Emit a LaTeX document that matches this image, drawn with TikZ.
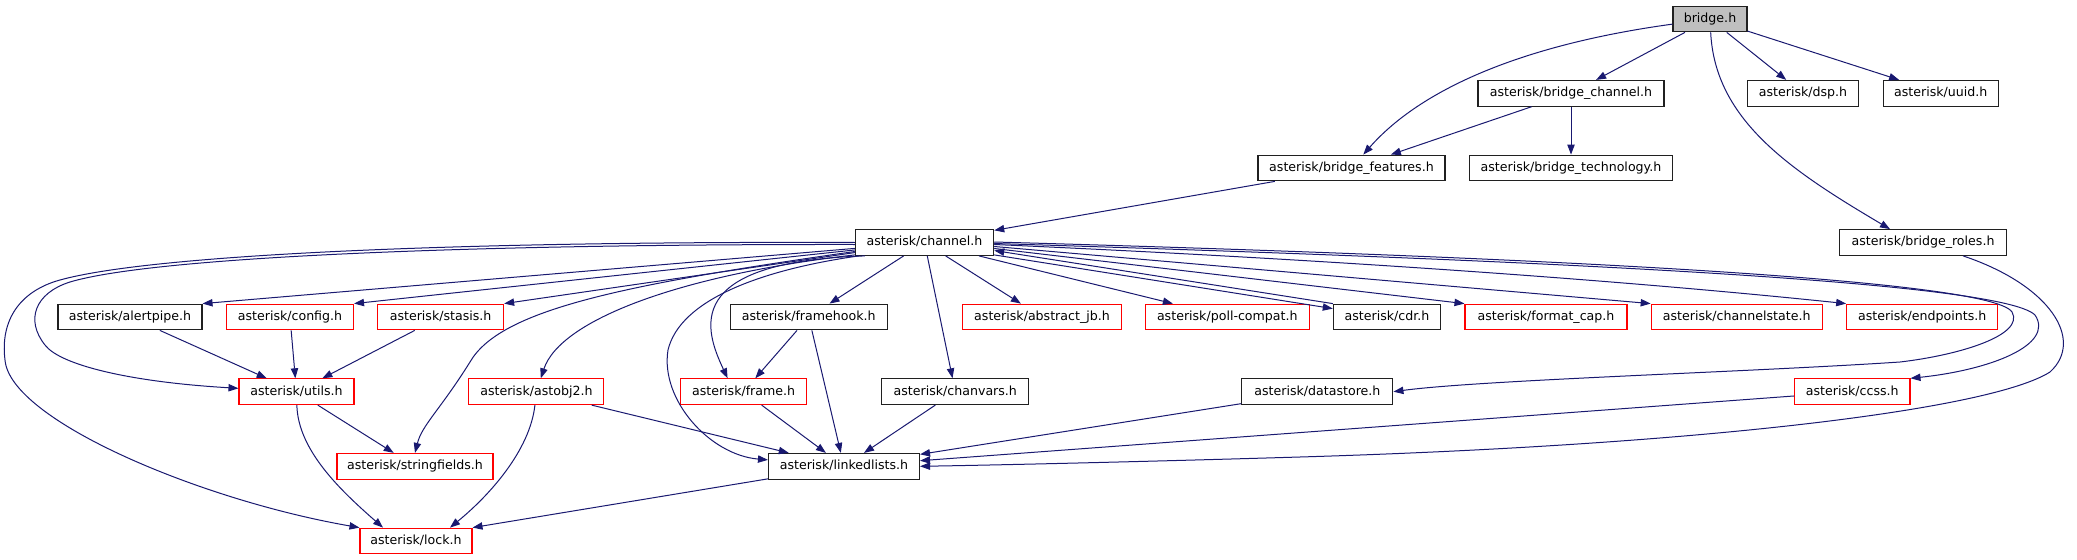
\documentclass[tikz,border=0pt]{standalone}
\usepackage{fontspec}
\setmainfont{DejaVu Sans}
\usetikzlibrary{arrows.meta,calc}
\definecolor{edgeblue}{HTML}{191970}
\definecolor{rootfill}{HTML}{BFBFBF}
\definecolor{boxred}{HTML}{FF0000}
\definecolor{boxblack}{HTML}{202020}
\begin{document}
\begin{tikzpicture}[x=0.75pt,y=-0.75pt,
  hnode/.style={draw=boxblack,line width=0.8pt,rectangle,inner sep=0pt,
    minimum height=19.3pt,text height=7.1pt,text depth=2.1pt,
    font=\fontsize{9.45pt}{11pt}\selectfont,fill=white},
  rednode/.style={hnode,draw=boxred},
  rootnode/.style={hnode,fill=rootfill},
  arr/.style={draw=edgeblue,line width=0.75pt,-{Triangle[length=7.5pt,width=5.5pt]}},
]
\useasboundingbox (0,0) rectangle (2077,560);

% row 1-4
\node[rootnode,minimum width=55.5pt]   (bridge)   at (1710,19)    {bridge.h};
\node[hnode,minimum width=139.5pt]     (bchan)    at (1571,93.3)  {asterisk/bridge\_channel.h};
\node[hnode,minimum width=83.25pt]     (dsp)      at (1803,93.3)  {asterisk/dsp.h};
\node[hnode,minimum width=86.25pt]     (uuid)     at (1940.7,93.3){asterisk/uuid.h};
\node[hnode,minimum width=140.25pt]    (bfeat)    at (1351.5,168) {asterisk/bridge\_features.h};
\node[hnode,minimum width=152.25pt]    (btech)    at (1571,168)   {asterisk/bridge\_technology.h};
\node[hnode,minimum width=103.8pt]     (channel)  at (924.5,242.5){asterisk/channel.h};
\node[hnode,minimum width=125.25pt]    (broles)   at (1923,242.5) {asterisk/bridge\_roles.h};
% row 5
\node[hnode,minimum width=108pt]       (alertpipe)    at (130,317)    {asterisk/alertpipe.h};
\node[rednode,minimum width=95.25pt]   (config)       at (290,317)    {asterisk/config.h};
\node[rednode,minimum width=94.5pt]    (stasis)       at (440.6,317)  {asterisk/stasis.h};
\node[hnode,minimum width=117.75pt]    (framehook)    at (808.7,317)  {asterisk/framehook.h};
\node[rednode,minimum width=119pt]     (abstractjb)   at (1042,317)   {asterisk/abstract\_jb.h};
\node[rednode,minimum width=123pt]     (pollcompat)   at (1227.3,317) {asterisk/poll-compat.h};
\node[hnode,minimum width=80.5pt]      (cdr)          at (1387,317)   {asterisk/cdr.h};
\node[rednode,minimum width=121.5pt]   (formatcap)    at (1546,317)   {asterisk/format\_cap.h};
\node[rednode,minimum width=128.25pt]  (channelstate) at (1736.7,317) {asterisk/channelstate.h};
\node[rednode,minimum width=113.25pt]  (endpoints)    at (1922.2,317) {asterisk/endpoints.h};
% row 6
\node[rednode,minimum width=86.25pt]   (utils)     at (296.5,391.7)  {asterisk/utils.h};
\node[rednode,minimum width=101.25pt]  (astobj2)   at (536.4,391.7)  {asterisk/astobj2.h};
\node[rednode,minimum width=94.5pt]    (frame)     at (743.6,391.7)  {asterisk/frame.h};
\node[hnode,minimum width=110.25pt]    (chanvars)  at (955.3,391.7)  {asterisk/chanvars.h};
\node[hnode,minimum width=113.25pt]    (datastore) at (1317.4,391.7) {asterisk/datastore.h};
\node[rednode,minimum width=86.5pt]    (ccss)      at (1852.3,391.7) {asterisk/ccss.h};
% row 7-8
\node[rednode,minimum width=117pt]     (stringfields) at (415,466.3) {asterisk/stringfields.h};
\node[hnode,minimum width=113.25pt]    (linkedlists)  at (844,466.3) {asterisk/linkedlists.h};
\node[rednode,minimum width=84pt]      (lock)         at (416,541)   {asterisk/lock.h};

% edges from bridge.h
\draw[arr] (bridge) .. controls (1520,45) and (1420,90) .. (bfeat);
\draw[arr] (bridge) -- (bchan);
\draw[arr] (bridge) -- (dsp);
\draw[arr] (bridge) -- (uuid);
\draw[arr] (bridge) .. controls (1715,120) and (1790,170) .. ($(broles.north)+(-33,0)$);
\draw[arr] (bchan) -- (bfeat);
\draw[arr] (bchan) -- (btech);
\draw[arr] (bfeat) -- (channel);

% channel.h, left side
\draw[arr] (channel.west) .. controls (450,241) and (150,255) .. (60,280)
  .. controls (20,291) and (0,320) .. (5,360)
  .. controls (10,420) and (200,500) .. (lock.north west);
\draw[arr] ($(channel.west)+(0,2)$) .. controls (450,244) and (150,258) .. (70,282)
  .. controls (35,293) and (25,320) .. (45,345)
  .. controls (60,365) and (130,382) .. (utils);
\draw[arr] (channel) -- (alertpipe.north east);
\draw[arr] (channel) -- (config.north east);
\draw[arr] (channel) -- (stasis.north east);
\draw[arr] ($(channel.west)+(0,9)$) .. controls (620,285) and (500,310) .. (470,362)
  .. controls (440,410) and (422,425) .. (stringfields.north);
\draw[arr] ($(channel.south west)+(0,-1)$) .. controls (680,275) and (560,320) .. (astobj2);
\draw[arr] ($(channel.south west)+(4,0)$) .. controls (760,270) and (680,300) .. (668,350)
  .. controls (660,400) and (710,455) .. (linkedlists);
\draw[arr] ($(channel.south west)+(10,0)$) .. controls (680,262) and (705,330) .. ($(frame.north)+(-16,0)$);

% channel.h, bottom and right side
\draw[arr] (channel) -- (framehook);
\draw[arr] (channel) -- (chanvars);
\draw[arr] (channel) -- (abstractjb);
\draw[arr] (channel) -- (pollcompat);
\draw[arr] ($(channel.south east)+(0,-1)$) -- ($(cdr.north west)+(0,5)$);
\draw[arr] (cdr.north west) -- ($(channel.east)+(0,8)$);
\draw[arr] ($(channel.east)+(0,6)$) -- (formatcap.north west);
\draw[arr] ($(channel.east)+(0,4)$) -- (channelstate.north west);
\draw[arr] ($(channel.east)+(0,2)$) .. controls (1300,258) and (1600,278) .. (endpoints.north west);
\draw[arr] ($(channel.east)+(0,-0.5)$) .. controls (1500,256) and (1990,278) .. (2012,312)
  .. controls (2025,335) and (1960,355) .. (1900,362)
  .. controls (1750,372) and (1480,380) .. (datastore.east);
\draw[arr] ($(channel.east)+(0,1)$) .. controls (1500,259) and (2000,280) .. (2035,315)
  .. controls (2055,345) and (1990,370) .. (ccss.north east);

% lower rows
\draw[arr] (alertpipe) -- (utils);
\draw[arr] (config) -- (utils);
\draw[arr] (stasis) -- (utils);
\draw[arr] (utils) -- (stringfields);
\draw[arr] (utils) .. controls (298,450) and (340,490) .. ($(lock.north)+(-33,0)$);
\draw[arr] (astobj2) .. controls (530,450) and (490,495) .. ($(lock.north)+(34,0)$);
\draw[arr] (astobj2) -- (linkedlists);
\draw[arr] (framehook) -- (frame);
\draw[arr] (framehook) -- (linkedlists);
\draw[arr] (frame) -- (linkedlists);
\draw[arr] (chanvars) -- (linkedlists);
\draw[arr] (datastore) -- (linkedlists);
\draw[arr] (ccss) -- (linkedlists);
\draw[arr] (broles) .. controls (2050,285) and (2085,340) .. (2050,372)
  .. controls (1990,410) and (1700,445) .. (1300,457)
  .. controls (1150,461.5) and (1000,465) .. (linkedlists.east);
\draw[arr] (linkedlists) -- (lock.north east);
\end{tikzpicture}
\end{document}
